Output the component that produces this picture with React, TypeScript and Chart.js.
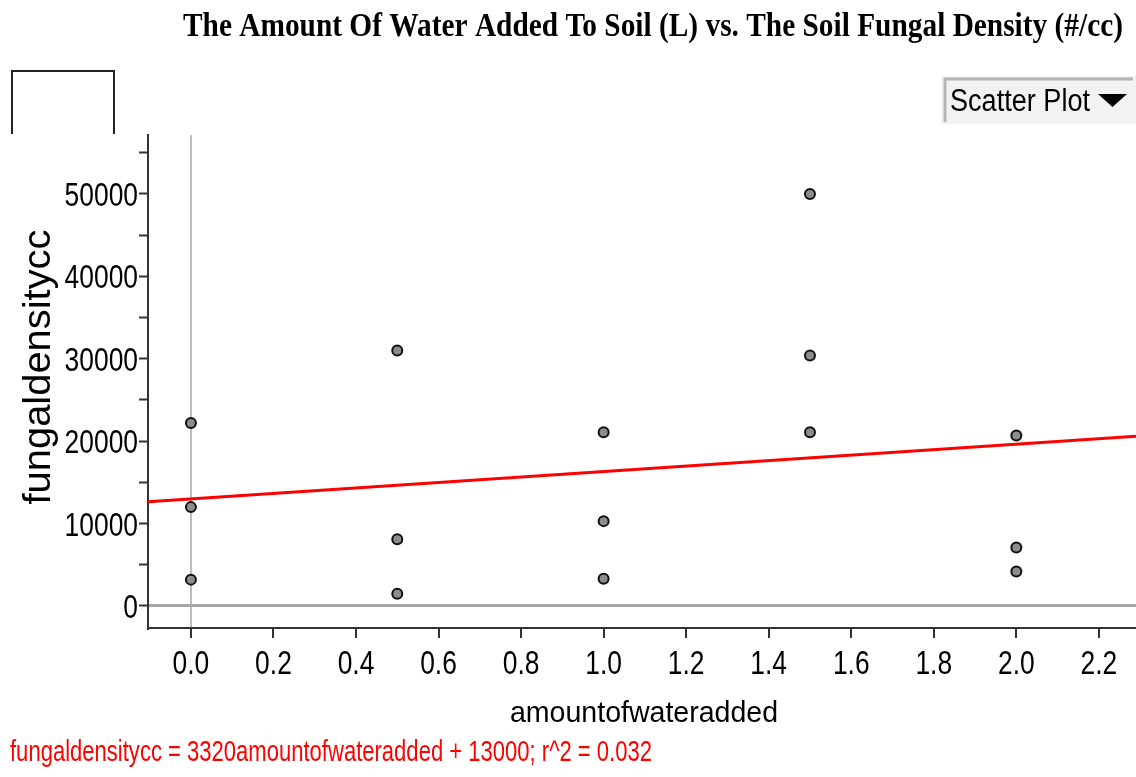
import React, { useEffect, useRef } from "react";
import { Chart, registerables } from "chart.js";

Chart.register(...registerables);

// ---- data ----
const waterAdded = [0, 0, 0, 0.5, 0.5, 0.5, 1, 1, 1, 1.5, 1.5, 1.5, 2, 2, 2];
const fungalDensity = [22200, 12000, 3200, 31000, 8100, 1500, 21100, 10300, 3300, 50000, 30400, 21100, 20700, 7100, 4200];
const xTickValues = [0, 0.2, 0.4, 0.6, 0.8, 1.0, 1.2, 1.4, 1.6, 1.8, 2.0, 2.2];
const yTickValues = [0, 5000, 10000, 15000, 20000, 25000, 30000, 35000, 40000, 45000, 50000, 55000];
const yLabelStep = 10000;
const fitSlope = 3320;
const fitIntercept = 13000;
const rSquared = 0.032;

const chartTitle = "The Amount Of Water Added To Soil (L) vs. The Soil Fungal Density (#/cc)";
const xAxisTitle = "amountofwateradded";
const yAxisTitle = "fungaldensitycc";
const equationText = `fungaldensitycc = ${fitSlope}amountofwateradded + ${fitIntercept}; r^2 = ${rSquared}`;
const menuText = "Scatter Plot";

const X_MIN = -0.104;
const X_MAX = 2.29;
const Y_MIN = -2670;
const Y_MAX = 57160;

const SANS = "'Liberation Sans', Arial, sans-serif";
const TICK_FONT = `33px ${SANS}`;
const TICK_SQUEEZE = 0.8;

function drawText(
  ctx: CanvasRenderingContext2D,
  text: string,
  x: number,
  y: number,
  font: string,
  color: string,
  opts: { width?: number; squeeze?: number; align?: CanvasTextAlign; rotate?: number }
) {
  ctx.save();
  ctx.font = font;
  ctx.fillStyle = color;
  ctx.textBaseline = "alphabetic";
  ctx.textAlign = opts.align || "left";
  const w = ctx.measureText(text).width;
  const s = opts.width ? (w > 0 ? opts.width / w : 1) : opts.squeeze || 1;
  ctx.translate(x, y);
  if (opts.rotate) ctx.rotate(opts.rotate);
  ctx.scale(s, 1);
  ctx.fillText(text, 0, 0);
  ctx.restore();
}

const decorPlugin = {
  id: "decor",
  afterDraw(chart: any) {
    const ctx: CanvasRenderingContext2D = chart.ctx;

    // tick labels, placed by the chart's own scales
    const xs = chart.scales.x;
    xs.ticks.forEach((t: any) => {
      if (!t.label) return;
      drawText(ctx, String(t.label), xs.getPixelForValue(t.value), 674, TICK_FONT, "#000", {
        squeeze: TICK_SQUEEZE,
        align: "center",
      });
    });
    const ys = chart.scales.y;
    ys.ticks.forEach((t: any) => {
      if (!t.label) return;
      drawText(ctx, String(t.label), 138, ys.getPixelForValue(t.value) + 12, TICK_FONT, "#000", {
        squeeze: TICK_SQUEEZE,
        align: "right",
      });
    });

    // title
    drawText(ctx, chartTitle, 653, 36, "bold 34px 'Liberation Serif', 'Times New Roman', serif", "#000", {
      width: 940,
      align: "center",
    });

    // empty box at top-left
    ctx.save();
    ctx.strokeStyle = "#222";
    ctx.lineWidth = 2;
    ctx.beginPath();
    ctx.moveTo(12, 134);
    ctx.lineTo(12, 71);
    ctx.lineTo(114, 71);
    ctx.lineTo(114, 134);
    ctx.stroke();
    ctx.restore();

    // "Scatter Plot" menu button
    ctx.save();
    ctx.fillStyle = "#f2f2f2";
    ctx.fillRect(941, 76, 195, 48);
    ctx.strokeStyle = "#b4b4b4";
    ctx.lineWidth = 3;
    ctx.beginPath();
    ctx.moveTo(945, 122);
    ctx.lineTo(945, 79);
    ctx.lineTo(1133, 79);
    ctx.stroke();
    ctx.fillStyle = "#000";
    ctx.beginPath();
    ctx.moveTo(1098, 94);
    ctx.lineTo(1127, 94);
    ctx.lineTo(1112.5, 107);
    ctx.closePath();
    ctx.fill();
    ctx.restore();
    drawText(ctx, menuText, 950, 111, `31px ${SANS}`, "#000", { width: 140 });

    // axis titles
    drawText(ctx, yAxisTitle, 50, 367, `38px ${SANS}`, "#000", { width: 275, align: "center", rotate: -Math.PI / 2 });
    drawText(ctx, xAxisTitle, 644, 722, `30px ${SANS}`, "#000", { width: 268, align: "center" });

    // regression equation
    drawText(ctx, equationText, 10, 761, `29px ${SANS}`, "#ff0000", { width: 642 });
  },
};

export default function App() {
  const canvasRef = useRef<HTMLCanvasElement | null>(null);

  useEffect(() => {
    if (!canvasRef.current) return;
    const points = waterAdded.map((x, i) => ({ x, y: fungalDensity[i] }));
    const fitLine = [X_MIN, X_MAX].map((x) => ({ x, y: fitIntercept + fitSlope * x }));

    const chart = new Chart(canvasRef.current, {
      type: "scatter",
      data: {
        datasets: [
          {
            label: "fungaldensitycc",
            data: points,
            pointRadius: 5,
            pointBorderWidth: 2,
            pointBackgroundColor: "#8c8c8c",
            pointBorderColor: "#111",
            showLine: false,
          },
          {
            label: "fit",
            data: fitLine,
            showLine: true,
            pointRadius: 0,
            borderColor: "#ff0000",
            borderWidth: 3,
            fill: false,
          } as any,
        ],
      },
      options: {
        animation: false,
        responsive: false,
        devicePixelRatio: 1,
        layout: { autoPadding: false, padding: { top: 135, left: 0, right: 0, bottom: 0 } },
        plugins: {
          legend: { display: false },
          title: { display: false },
          tooltip: { enabled: false },
        },
        scales: {
          x: {
            type: "linear",
            min: X_MIN,
            max: X_MAX,
            afterBuildTicks: (s: any) => {
              s.ticks = xTickValues.map((value) => ({ value }));
            },
            afterFit: (s: any) => {
              s.height = 149;
            },
            ticks: {
              display: false,
              callback: (v: any) => Number(v).toFixed(1),
              autoSkip: false,
            },
            grid: {
              color: (c: any) => (c.tick && c.tick.value === 0 ? "#bdbdbd" : "rgba(0,0,0,0)"),
              lineWidth: 2,
              tickColor: "#333",
              tickLength: 10,
              tickWidth: 2,
            },
            border: { color: "#333", width: 2 },
          },
          y: {
            type: "linear",
            min: Y_MIN,
            max: Y_MAX,
            afterBuildTicks: (s: any) => {
              s.ticks = yTickValues.map((value) => ({ value }));
            },
            afterFit: (s: any) => {
              s.width = 148;
            },
            ticks: {
              display: false,
              callback: (v: any) => (Number(v) % yLabelStep === 0 ? String(v) : ""),
              autoSkip: false,
            },
            grid: {
              color: (c: any) => (c.tick && c.tick.value === 0 ? "#a6a6a6" : "rgba(0,0,0,0)"),
              lineWidth: (c: any) => (c.tick && c.tick.value === 0 ? 3 : 1),
              tickColor: "#333",
              tickLength: 9,
              tickWidth: 2,
            },
            border: { color: "#333", width: 2 },
          },
        },
      },
      plugins: [decorPlugin],
    });
    return () => chart.destroy();
  }, []);

  return (
    <div style={{ position: "absolute", left: 0, top: 0, width: 1136, height: 777, background: "#fff" }}>
      <canvas ref={canvasRef} width={1136} height={777} style={{ display: "block" }} />
    </div>
  );
}
